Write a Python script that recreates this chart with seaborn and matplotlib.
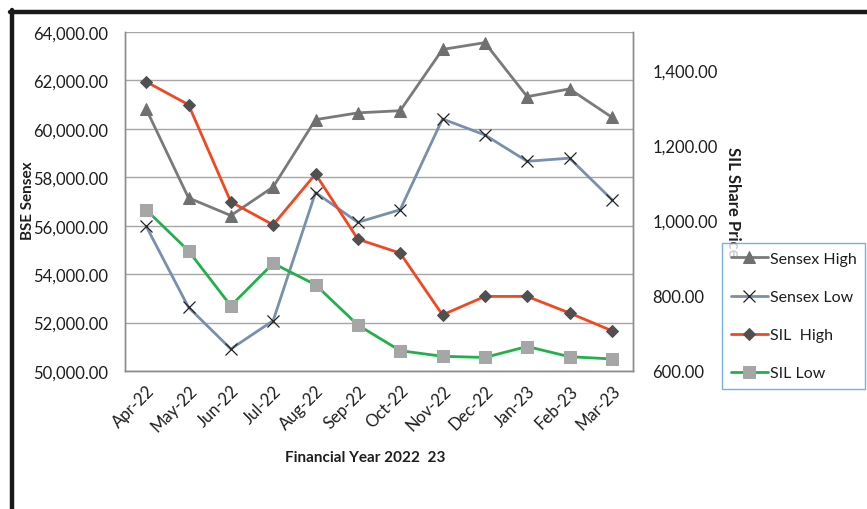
import matplotlib
matplotlib.use("Agg")
import matplotlib.pyplot as plt
from matplotlib.lines import Line2D
import seaborn as sns
import pandas as pd
import numpy as np

# --- datos ---
months = ["Apr-22", "May-22", "Jun-22", "Jul-22", "Aug-22", "Sep-22",
          "Oct-22", "Nov-22", "Dec-22", "Jan-23", "Feb-23", "Mar-23"]
sensex_high = [60820, 57150, 56420, 57600, 60380, 60660,
               60750, 63280, 63560, 61330, 61650, 60480]
sensex_low = [55980, 52630, 50910, 52080, 57370, 56140,
              56660, 60410, 59750, 58660, 58790, 57080]
sil_high = [1368, 1307, 1049, 988, 1123, 950,
            913, 749, 798, 798, 754, 707]
sil_low = [1028, 919, 773, 886, 829, 722,
           654, 639, 636, 665, 638, 632]

TEXT = "#1e1e1e"

sns.set_style("white")
plt.rcParams["font.family"] = ["Lato", "DejaVu Sans"]
plt.rcParams["text.color"] = TEXT

df = pd.DataFrame({"pos": np.arange(len(months)), "month": months,
                   "sensex_high": sensex_high, "sensex_low": sensex_low,
                   "sil_high": sil_high, "sil_low": sil_low})

fig = plt.figure(figsize=(8.67, 5.10), dpi=100)
ax = fig.add_axes([125 / 867, 1 - 372 / 510, (633 - 125) / 867, (372 - 33) / 510])
ax2 = ax.twinx()

# Sensex (eje izquierdo)
sns.lineplot(data=df, x="pos", y="sensex_high", ax=ax, color="#7a7a7a", lw=2,
             marker="^", markersize=8, markerfacecolor="#707070",
             markeredgecolor="#707070", label="Sensex High", zorder=3)
sns.lineplot(data=df, x="pos", y="sensex_low", ax=ax, color="#7890ac", lw=2,
             marker="x", markersize=8.5, markeredgecolor="#222222",
             markeredgewidth=0.9, label="Sensex Low", zorder=3)

# SIL (eje derecho)
sns.lineplot(data=df, x="pos", y="sil_high", ax=ax2, color="#f24822", lw=2,
             marker="D", markersize=6.5, markerfacecolor="#505050",
             markeredgecolor="#505050", label="SIL  High", zorder=3)
sns.lineplot(data=df, x="pos", y="sil_low", ax=ax2, color="#22b04b", lw=2,
             marker="s", markersize=8, markerfacecolor="#a6a6a6",
             markeredgecolor="#a6a6a6", label="SIL Low", zorder=3)

h1, l1 = ax.get_legend_handles_labels()
h2, l2 = ax2.get_legend_handles_labels()
ax.get_legend().remove()
ax2.get_legend().remove()

ax.set_ylim(50000, 64000)
ax.set_yticks(np.arange(50000, 64001, 2000))
ax.set_yticklabels([f"{v:,.2f}" for v in range(50000, 64001, 2000)])
ax2.set_ylim(600, 1500)
ax2.set_yticks(np.arange(600, 1401, 200))
ax2.set_yticklabels([f"{v:,.2f}" for v in range(600, 1401, 200)])

ax.set_xlim(-0.5, len(months) - 0.5)
ax.set_xticks(np.arange(len(months)))
ax.set_xticklabels(months, rotation=45, ha="right", rotation_mode="anchor")
ax.set_xticks(np.arange(-0.5, len(months), 1), minor=True)
ax.tick_params(axis="x", which="major", length=0, pad=8, labelsize=12, colors=TEXT)
ax.tick_params(axis="x", which="minor", length=5, width=1, color="#808080")
ax.tick_params(axis="y", length=0, pad=12, labelsize=12, colors=TEXT)
ax2.tick_params(axis="y", length=0, pad=14, labelsize=12, colors=TEXT)

ax.grid(axis="y", color="#a6a6a6", lw=1)
ax.set_axisbelow(True)
for a in (ax, ax2):
    for s in a.spines.values():
        s.set_color("#8c8c8c")
        s.set_linewidth(1)
    a.spines["top"].set_visible(False)

ax.set_xlabel("")
ax.set_ylabel("")
ax2.set_ylabel("")

fig.text(28 / 867, 1 - 201 / 510, "BSE Sensex", rotation=90, ha="center",
         va="center", fontsize=11, fontweight="bold")
fig.text(733 / 867, 1 - 202 / 510, "SIL Share Price", rotation=-90, ha="center",
         va="center", fontsize=12, fontweight="bold")
fig.text(365 / 867, 1 - 458 / 510, "Financial Year 2022  23", ha="center",
         va="center", fontsize=11, fontweight="bold")

leg = fig.legend(h1 + h2, l1 + l2, loc="upper left",
                 bbox_to_anchor=(722 / 867, 1 - 244 / 510), frameon=True,
                 fancybox=False, fontsize=11.5, handlelength=2.3,
                 handletextpad=0.15, labelspacing=1.5, borderpad=0.55,
                 borderaxespad=0)
leg.get_frame().set_edgecolor("#5b9bd5")
leg.get_frame().set_linewidth(1)

# marco negro grueso (arriba e izquierda)
fig.add_artist(Line2D([10 / 867, 1], [1 - 13 / 510, 1 - 13 / 510], color="#1a1a1a",
                      lw=3.2, transform=fig.transFigure))
fig.add_artist(Line2D([12 / 867, 12 / 867], [1 - 11 / 510, 0], color="#1a1a1a",
                      lw=3.2, transform=fig.transFigure))

fig.savefig("out.png", dpi=100)
